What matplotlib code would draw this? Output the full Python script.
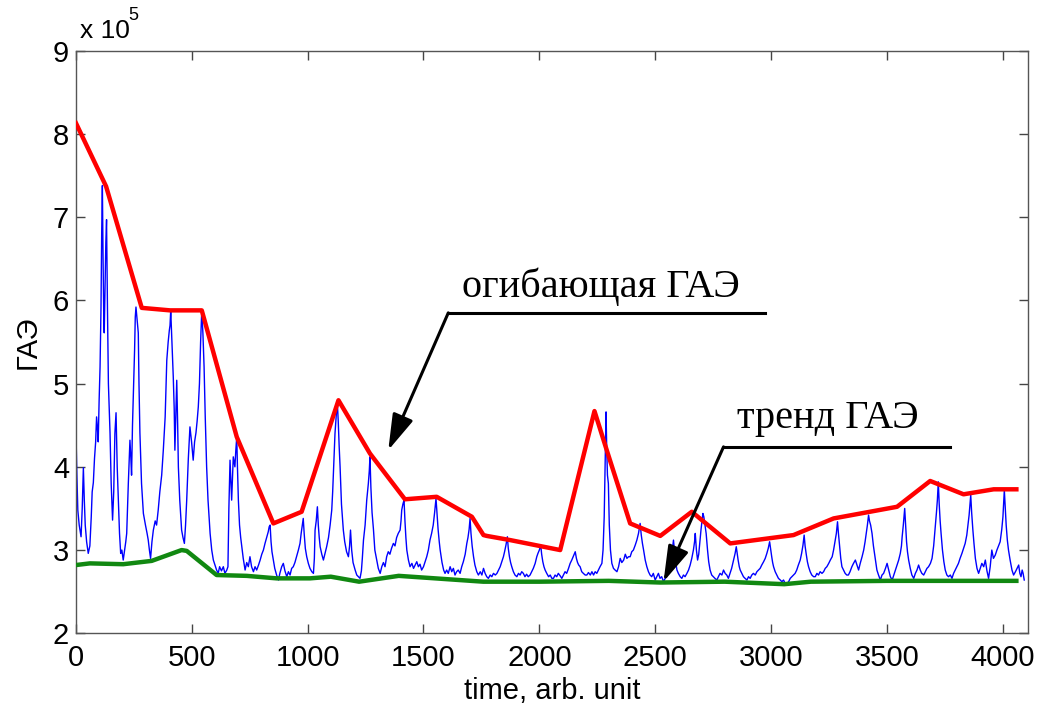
import matplotlib
matplotlib.use("Agg")
import matplotlib.pyplot as plt

# signal (GAE), time in arb. units, values in 1e5
sig_t = [0, 4, 8, 14, 22, 27, 32, 36, 40, 46, 53, 60, 66, 70, 75, 80, 85, 89, 93, 96, 100, 104, 108, 111, 114,
         117, 120, 122, 126, 129, 132, 136, 140, 147, 152, 158, 163, 168, 173, 178, 183, 188, 193, 198, 204,
         210, 215, 219, 226, 233, 237, 240, 244, 248, 253, 256, 259,
         263, 266, 269, 272, 276, 283, 291, 300, 307, 312, 317, 322, 328, 334, 342, 348, 355, 362, 370, 377,
         385, 392, 398, 403, 406, 409,
         413, 417, 420, 424, 427, 431, 435, 439, 442, 448, 456, 462, 468, 473, 478, 485, 492, 499, 506, 512,
         518, 523, 528, 533, 538, 543,
         548, 553, 558, 564, 570, 579, 586, 593, 600, 607, 614, 620, 628, 636, 643, 651, 656, 660, 665, 669,
         672, 676, 679, 686, 690, 694,
         697, 701, 706, 711, 716, 722, 730, 737, 744, 751, 758, 766, 773, 780, 788, 795, 802, 809, 816, 823,
         830, 834, 838, 842, 846, 852,
         858, 866, 874, 880, 888, 895, 902, 910, 917, 924, 931, 938, 945, 952, 960, 967, 972, 977, 981, 985,
         990, 996, 1003,
         1010, 1018, 1025, 1029, 1032, 1037, 1042, 1046, 1050, 1054, 1061, 1068, 1075, 1082, 1090, 1097,
         1104, 1108, 1113, 1118, 1123, 1128,
         1132, 1136, 1140, 1146, 1154, 1160, 1168, 1176, 1181, 1185, 1190, 1196, 1205, 1212, 1219, 1226,
         1232, 1236, 1241, 1248, 1255, 1262, 1266, 1269,
         1273, 1278, 1284, 1290, 1298, 1305, 1313, 1320, 1327, 1334, 1341, 1348, 1355, 1362, 1370, 1377,
         1384, 1391, 1399, 1403, 1406, 1411, 1416,
         1420, 1424, 1428, 1435, 1442, 1450, 1457, 1464, 1471, 1478, 1485, 1492, 1500, 1507, 1514, 1521,
         1528, 1535, 1542, 1548, 1554,
         1558, 1563, 1568, 1572, 1580, 1587, 1593, 1600, 1607, 1615, 1622, 1629, 1636, 1643, 1650, 1658,
         1665, 1672, 1680, 1687, 1692, 1697, 1701,
         1705, 1710, 1716, 1722, 1730, 1737, 1745, 1752, 1759, 1766, 1773, 1780, 1788, 1795, 1802, 1810,
         1817, 1824, 1831, 1838, 1845, 1850, 1856, 1862,
         1866, 1871, 1876, 1881, 1888, 1895, 1903, 1910, 1917, 1924, 1931, 1938, 1945, 1952, 1960, 1967,
         1974, 1982, 1989, 1994, 2000, 2006,
         2010, 2015, 2020, 2025, 2032, 2040, 2047, 2054, 2061, 2068, 2075, 2082, 2090, 2097, 2104, 2111,
         2118, 2126, 2133, 2140, 2146, 2151, 2155,
         2160, 2165, 2170, 2176, 2183, 2190, 2198, 2205, 2212, 2220, 2227, 2234, 2241, 2248, 2255, 2262,
         2270, 2275, 2280, 2284, 2288, 2291, 2294, 2298,
         2302, 2307, 2313, 2320, 2327, 2335, 2342, 2349, 2356, 2364, 2371, 2378, 2385, 2392, 2399, 2406,
         2414, 2421, 2428, 2435,
         2440, 2445, 2450, 2457, 2464, 2471, 2478, 2485, 2492, 2500, 2507, 2514, 2521, 2528, 2536, 2543,
         2550, 2558, 2565, 2572, 2576, 2579, 2583, 2587, 2594,
         2600, 2608, 2615, 2622, 2629, 2637, 2644, 2651, 2658, 2665, 2670, 2673, 2678, 2683, 2688, 2693,
         2698, 2702, 2706,
         2710, 2715, 2720, 2726, 2731, 2737, 2744, 2751, 2758, 2766, 2773, 2780, 2788, 2795, 2802, 2809,
         2816, 2823, 2830, 2835, 2840, 2845, 2850,
         2854, 2858, 2863, 2867, 2874, 2881, 2888, 2896, 2903, 2910, 2917, 2924, 2932, 2939, 2946, 2953,
         2960, 2968, 2975, 2982, 2988, 2994,
         2998, 3003, 3007, 3011, 3018, 3025, 3032, 3040, 3047, 3054, 3061, 3069, 3076, 3083, 3090, 3097,
         3104, 3111, 3118, 3126, 3132, 3138, 3143,
         3147, 3152, 3157, 3162, 3169, 3176, 3184, 3191, 3198, 3205, 3212, 3220, 3227, 3234, 3241, 3249,
         3256, 3264, 3270, 3276, 3282, 3287,
         3291, 3296, 3301, 3306, 3313, 3320, 3327, 3334, 3341, 3349, 3356, 3364, 3371, 3378, 3385, 3393,
         3400, 3406, 3411, 3416, 3421,
         3425, 3430, 3436, 3442, 3450, 3457, 3464, 3472, 3479, 3486, 3494, 3501, 3508, 3515, 3523, 3530,
         3537, 3544, 3551, 3558, 3563, 3566, 3571, 3577,
         3581, 3585, 3589, 3594, 3601, 3608, 3616, 3623, 3630, 3637, 3644, 3651, 3659, 3666, 3673, 3680,
         3688, 3695, 3702, 3709, 3714, 3718, 3722,
         3726, 3730, 3734, 3740, 3746, 3752, 3759, 3766, 3774, 3781, 3788, 3795, 3802, 3809, 3816, 3824,
         3831, 3838, 3845, 3850, 3855, 3859, 3862,
         3866, 3871, 3876, 3882, 3889, 3896, 3903, 3910, 3918, 3925, 3932, 3939, 3946, 3953, 3960, 3968,
         3975, 3982, 3989, 3996, 4001, 4004, 4007, 4011, 4015, 4020, 4025, 4032, 4040, 4047, 4055, 4062,
         4069, 4074, 4079, 4084, 4088, 4093]
sig_v = [4.42, 3.9, 3.48, 3.3, 3.16, 3.5, 3.99, 3.6, 3.30, 3.1, 2.96, 3.05, 3.4, 3.7, 3.81, 4.1, 4.3, 4.60,
         4.45, 4.30, 4.8, 5.20, 5.9, 6.8, 7.38,
         6.5, 5.8, 5.61, 6.2, 6.7, 6.97, 5.9, 5.0, 4.41, 3.8, 3.36, 3.7, 4.4, 4.65, 4.0, 3.60, 3.2, 2.96, 3.0,
         2.88, 3.0, 3.1, 3.20, 3.8, 4.32, 4.1, 3.90, 4.5, 4.90, 5.4, 5.8, 5.92,
         5.8, 5.7, 5.61, 5.0, 4.41, 3.8, 3.44, 3.3, 3.2, 3.12, 3.0, 2.90, 3.1, 3.24, 3.35, 3.3, 3.48, 3.7, 3.9,
         4.20, 4.6, 5.28, 5.5, 5.64, 5.7, 5.88,
         5.6, 5.3, 5.08, 4.7, 4.20, 4.6, 5.04, 4.5, 4.00, 3.6, 3.24, 3.15, 3.08, 3.3, 3.60, 4.1, 4.48, 4.3,
         4.08, 4.3, 4.41, 4.55, 4.72, 5.0, 5.5, 5.88,
         5.6, 5.20, 4.6, 4.00, 3.6, 3.20, 3.0, 2.88, 2.82, 2.76, 2.72, 2.8, 2.75, 2.80, 2.72, 2.76, 2.8, 3.5,
         4.08, 3.8, 3.60, 3.9, 4.12, 4.0, 4.2, 4.36,
         4.0, 3.60, 3.3, 3.15, 3.04, 2.9, 2.76, 2.85, 2.8, 2.92, 2.8, 2.74, 2.8, 2.76, 2.82, 2.88, 2.95, 3.0,
         3.08, 3.15, 3.22, 3.28, 3.30, 3.1, 2.98, 2.88,
         2.78, 2.7, 2.64, 2.72, 2.8, 2.84, 2.75, 2.68, 2.74, 2.7, 2.78, 2.80, 2.85, 2.92, 3.0, 3.08, 3.2, 3.3,
         3.38, 3.2, 3.02, 2.92, 2.84,
         2.78, 2.74, 2.72, 2.9, 3.24, 3.35, 3.52, 3.3, 3.15, 3.04, 2.95, 2.88, 2.96, 3.04, 3.15, 3.3, 3.48,
         3.7, 4.05, 4.40, 4.6, 4.78,
         4.55, 4.25, 4.00, 3.55, 3.24, 3.1, 2.98, 2.92, 3.05, 3.24, 3.0, 2.85, 2.76, 2.7, 2.68, 2.66, 2.75,
         2.9, 3.12, 3.3, 3.60, 3.8, 3.95, 4.12,
         3.75, 3.45, 3.25, 3.0, 2.88, 2.78, 2.72, 2.8, 2.85, 2.8, 2.92, 2.98, 2.95, 3.02, 3.08, 3.05, 3.15,
         3.2, 3.24, 3.35, 3.48, 3.55, 3.60,
         3.35, 3.15, 3.0, 2.88, 2.80, 2.84, 2.78, 2.82, 2.86, 2.8, 2.83, 2.76, 2.80, 2.86, 2.92, 3.0, 3.12,
         3.2, 3.3, 3.45, 3.62,
         3.45, 3.25, 3.1, 3.0, 2.85, 2.76, 2.72, 2.76, 2.72, 2.80, 2.74, 2.78, 2.70, 2.74, 2.76, 2.72, 2.80,
         2.86, 2.95, 3.08, 3.15, 3.25, 3.38,
         3.2, 3.05, 2.92, 2.82, 2.74, 2.70, 2.74, 2.7, 2.78, 2.72, 2.68, 2.66, 2.7, 2.68, 2.72, 2.7, 2.72,
         2.76, 2.8, 2.86, 2.92, 2.98, 3.06, 3.16,
         3.02, 2.92, 2.85, 2.80, 2.74, 2.7, 2.68, 2.72, 2.7, 2.74, 2.72, 2.68, 2.71, 2.68, 2.70, 2.74, 2.78,
         2.84, 2.92, 2.96, 3.0, 3.06,
         2.95, 2.86, 2.8, 2.76, 2.72, 2.68, 2.7, 2.66, 2.66, 2.7, 2.68, 2.72, 2.69, 2.66, 2.70, 2.74, 2.72,
         2.78, 2.84, 2.88, 2.92, 2.95, 2.98,
         2.9, 2.85, 2.82, 2.80, 2.74, 2.72, 2.7, 2.70, 2.73, 2.7, 2.74, 2.7, 2.74, 2.72, 2.76, 2.8, 2.84, 3.0,
         3.40, 4.0, 4.66, 4.2, 3.9, 3.80,
         3.3, 3.0, 2.84, 2.78, 2.76, 2.74, 2.8, 2.9, 2.85, 2.88, 2.95, 2.9, 2.92, 2.92, 2.98, 3.0, 3.06, 3.12,
         3.2, 3.32,
         3.18, 3.08, 3.0, 2.88, 2.8, 2.74, 2.7, 2.68, 2.72, 2.64, 2.68, 2.72, 2.66, 2.68, 2.62, 2.66, 2.7,
         2.76, 2.82, 2.95, 3.05, 3.12, 3.0, 2.88, 2.76,
         2.72, 2.68, 2.66, 2.7, 2.68, 2.72, 2.76, 2.82, 2.9, 3.0, 3.1, 3.20, 3.0, 2.88, 2.95, 3.1, 3.25, 3.35,
         3.44,
         3.4, 3.3, 3.20, 3.0, 2.86, 2.76, 2.7, 2.68, 2.66, 2.64, 2.68, 2.72, 2.7, 2.76, 2.72, 2.7, 2.66, 2.72,
         2.78, 2.84, 2.9, 2.96, 3.04,
         2.96, 2.88, 2.8, 2.76, 2.72, 2.68, 2.66, 2.64, 2.68, 2.66, 2.7, 2.72, 2.7, 2.74, 2.76, 2.78, 2.82,
         2.86, 2.9, 2.96, 3.02, 3.10,
         3.02, 2.92, 2.85, 2.80, 2.74, 2.7, 2.66, 2.64, 2.62, 2.64, 2.6, 2.60, 2.62, 2.66, 2.68, 2.70, 2.72,
         2.76, 2.82, 2.88, 2.96, 3.06, 3.18,
         3.05, 2.95, 2.86, 2.80, 2.74, 2.7, 2.68, 2.68, 2.72, 2.7, 2.74, 2.72, 2.74, 2.78, 2.8, 2.84, 2.88,
         2.92, 3.0, 3.1, 3.2, 3.34,
         3.2, 3.05, 2.9, 2.80, 2.76, 2.72, 2.7, 2.70, 2.74, 2.8, 2.84, 2.88, 2.82, 2.76, 2.84, 2.92, 3.00, 3.1,
         3.2, 3.3, 3.42,
         3.35, 3.3, 3.2, 3.05, 2.9, 2.76, 2.7, 2.64, 2.7, 2.72, 2.78, 2.84, 2.76, 2.68, 2.64, 2.7, 2.76, 2.82,
         2.88, 2.96, 3.05, 3.16, 3.3, 3.50,
         3.3, 3.1, 2.98, 2.88, 2.78, 2.7, 2.66, 2.72, 2.76, 2.82, 2.76, 2.72, 2.70, 2.74, 2.78, 2.8, 2.84, 2.9,
         3.05, 3.28, 3.45, 3.6, 3.82,
         3.55, 3.35, 3.20, 3.0, 2.86, 2.76, 2.7, 2.68, 2.7, 2.66, 2.72, 2.76, 2.80, 2.84, 2.9, 2.96, 3.02,
         3.08, 3.18, 3.3, 3.42, 3.55, 3.66,
         3.45, 3.25, 3.08, 2.9, 2.78, 2.72, 2.78, 2.84, 2.8, 2.88, 2.75, 2.66, 2.8, 3.00, 2.9, 2.94, 3.00,
         3.05, 3.1, 3.25, 3.4, 3.55, 3.72, 3.5, 3.3, 3.12, 3.00, 2.88, 2.76, 2.70, 2.74, 2.78, 2.82, 2.72,
         2.68, 2.76, 2.72, 2.64]
assert len(sig_t) == len(sig_v)

# envelope (red)
env_t = [0, 130, 284, 406, 543, 694, 852, 974, 1133, 1269, 1420, 1557, 1709, 1759, 1773, 1874,
         2090, 2238, 2291, 2392, 2522, 2658, 2824, 3097, 3270, 3544, 3687, 3831, 3961, 4059]
env_v = [8.13, 7.37, 5.91, 5.88, 5.88, 4.36, 3.32, 3.46, 4.80, 4.16, 3.61, 3.64, 3.40, 3.18, 3.17,
         3.12, 3.00, 4.67, 4.20, 3.32, 3.17, 3.46, 3.08, 3.18, 3.38, 3.52, 3.83, 3.67, 3.73, 3.73]

# trend (green)
trend_t = [0, 60, 204, 327, 456, 478, 607, 737, 866, 1010, 1100, 1222, 1393, 1550, 1758, 2000,
           2300, 2522, 2800, 3057, 3172, 3500, 3800, 4059]
trend_v = [2.82, 2.84, 2.83, 2.87, 3.00, 2.99, 2.70, 2.69, 2.66, 2.66, 2.68, 2.62, 2.69, 2.66,
           2.62, 2.62, 2.63, 2.61, 2.62, 2.59, 2.62, 2.63, 2.63, 2.63]

xticks = [0, 500, 1000, 1500, 2000, 2500, 3000, 3500, 4000]
yticks = [2, 3, 4, 5, 6, 7, 8, 9]

plt.rcParams['font.family'] = ['Liberation Sans', 'DejaVu Sans']

fig = plt.figure(figsize=(10.42, 7.11), dpi=100)
ax = fig.add_axes([0.0729, 0.1093, 0.9134, 0.8194])

ax.plot(sig_t, sig_v, color='#0000ff', lw=1.0, zorder=2)
ax.plot(env_t, env_v, color='#ff0000', lw=3.2, zorder=3)
ax.plot(trend_t, trend_v, color='#118811', lw=3.2, zorder=3)

ax.set_xlim(0, 4108)
ax.set_ylim(2, 9)
ax.set_xticks(xticks)
ax.set_yticks(yticks)
ax.tick_params(direction='in', length=6.5, width=1, colors='#444444', labelcolor='black',
               labelsize=21, top=True, right=True)
ax.tick_params(axis='x', pad=8)
ax.tick_params(axis='y', pad=5)
for s in ax.spines.values():
    s.set_color('#555555')
    s.set_linewidth(1.0)

ax.set_xlabel('time, arb. unit', fontsize=21, labelpad=3)
ax.set_ylabel('ГАЭ', fontsize=21, labelpad=8)

# multiplier "x 10^5"
ax.text(0.004, 1.013, 'x 10', transform=ax.transAxes, fontsize=19, ha='left', va='bottom')
ax.text(0.055, 1.046, '5', transform=ax.transAxes, fontsize=13, ha='left', va='bottom')

# annotations
serif = ['Liberation Serif', 'DejaVu Serif']
arrow = dict(arrowstyle='-|>,head_length=1.0,head_width=0.3', color='black', lw=2.2,
             mutation_scale=22, shrinkA=0, shrinkB=0)

ax.text(1665, 6.04, 'огибающая ГАЭ', family=serif, fontsize=29, ha='left', va='baseline')
ax.plot([1607, 2975], [5.85, 5.85], color='black', lw=2.2, zorder=5)
ax.annotate('', xy=(1348, 4.20), xytext=(1607, 5.85), arrowprops=arrow, zorder=5)

ax.text(2853, 4.47, 'тренд ГАЭ', family=serif, fontsize=29, ha='left', va='baseline')
ax.plot([2795, 3774], [4.24, 4.24], color='black', lw=2.2, zorder=5)
ax.annotate('', xy=(2536, 2.62), xytext=(2795, 4.24), arrowprops=arrow, zorder=5)

fig.savefig('out.png', dpi=100)
